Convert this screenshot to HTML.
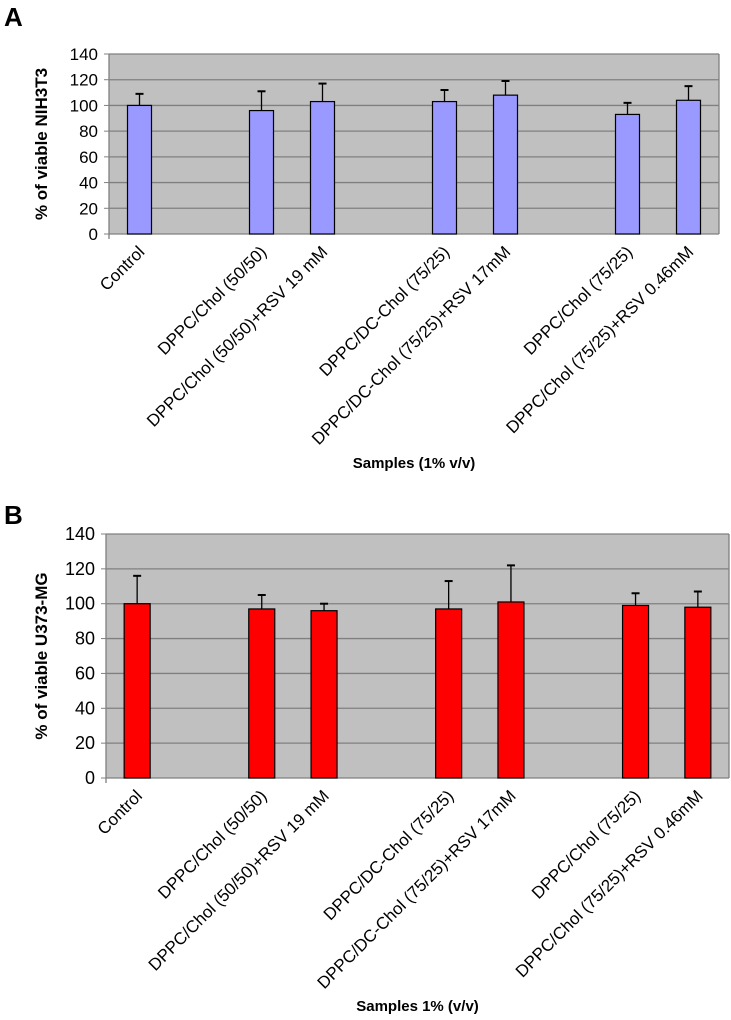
<!DOCTYPE html>
<html><head><meta charset="utf-8"><style>
body{margin:0;background:#fff;}
svg{display:block;font-family:"Liberation Sans",Arial,sans-serif;}
</style></head><body>
<svg id="fig" width="731" height="1020"></svg>
<script>
const categories = ["Control","","DPPC/Chol (50/50)","DPPC/Chol (50/50)+RSV 19 mM","","DPPC/DC-Chol (75/25)","DPPC/DC-Chol (75/25)+RSV 17mM","","DPPC/Chol (75/25)","DPPC/Chol (75/25)+RSV 0.46mM"];
const nihValues = [100,null,96,103,null,103,108,null,93,104];
const nihErrors = [9,null,15,14,null,9,11,null,9,11];
const u373Values = [100,null,97,96,null,97,101,null,99,98];
const u373Errors = [16,null,8,4,null,16,21,null,7,9];
const yTicks = [0,20,40,60,80,100,120,140];

const NS="http://www.w3.org/2000/svg";
const svg=document.getElementById('fig');
function mk(tag,attrs,parent,text){const e=document.createElementNS(NS,tag);for(const k in attrs)e.setAttribute(k,attrs[k]);if(text!==undefined)e.textContent=text;(parent||svg).appendChild(e);return e;}

function chart(cfg){
  const g=mk('g',{});
  
  
  const {L,R,T,B}=cfg;
  const y=v=>B-(v/140)*(B-T);
  const slot=(R-L)/categories.length;
  const x=i=>L+slot*(i+0.5);
  const bg=mk('rect',{x:L,y:T,width:R-L,height:B-T,fill:'#c0c0c0'},g);
  
  
  yTicks.forEach(t=>{
    if(t>0){const gl=mk('line',{x1:L,x2:R,y1:y(t),y2:y(t),stroke:'#808080','stroke-width':1.3},g);
      
      }
    mk('line',{x1:L-5,x2:L,y1:y(t),y2:y(t),stroke:'#808080'},g);
    const tl=mk('text',{x:L-11,y:y(t)+6,'text-anchor':'end','font-size':cfg.tickFs},g,String(t));
    
    
  });
  mk('line',{x1:R,x2:R,y1:T,y2:B,stroke:'#808080','stroke-width':1.3},g);
  mk('line',{x1:L,x2:L,y1:T,y2:B+5,stroke:'#808080','stroke-width':1.3},g);
  mk('line',{x1:L,x2:R,y1:B,y2:B,stroke:'#808080','stroke-width':1.3},g);
  cfg.values.forEach((v,i)=>{
    if(v===null)return;
    const cx=x(i),bw=cfg.bw;
    const e=cfg.errors[i];
    const eb=mk('line',{x1:cx,x2:cx,y1:y(v),y2:y(v+e),stroke:'#000','stroke-width':1.3},g);
    
    
    mk('line',{x1:cx-4,x2:cx+4,y1:y(v+e),y2:y(v+e),stroke:'#000','stroke-width':2},g);
    const b=mk('rect',{x:cx-bw/2,y:y(v),width:bw,height:B-y(v),fill:cfg.color,stroke:'#000','stroke-width':1.2},g);
    
    
  });
  categories.forEach((c,i)=>{
    if(!c)return;
    const lx=x(i)+6,ly=B+19;
    const t=mk('text',{x:lx,y:ly,'text-anchor':'end','font-size':17,transform:`rotate(-45 ${lx} ${ly})`},g,c);
    
    
  });
  const xt=mk('text',{x:(L+R)/2,y:cfg.xTitleY,'text-anchor':'middle','font-size':15,'font-weight':'bold'},g,cfg.xTitle);
  
  
  const yc=(T+B)/2;
  const yt=mk('text',{x:47,y:yc,'text-anchor':'middle','font-size':17,'font-weight':'bold',transform:`rotate(-90 47 ${yc})`},g,cfg.yTitle);
  
  
  const pl=mk('text',{x:4,y:cfg.panelY,'font-size':26,'font-weight':'bold'},g,cfg.panel);
  
  
}
chart({name:'chart-a',L:109,R:719,T:54,B:234,bw:24,color:'#9999ff',tickFs:17,values:nihValues,errors:nihErrors,xTitle:'Samples (1% v/v)',xTitleY:468,yTitle:'% of viable NIH3T3',panel:'A',panelY:26});
chart({name:'chart-b',L:106,R:729,T:534,B:778,bw:26,color:'#ff0000',tickFs:18,values:u373Values,errors:u373Errors,xTitle:'Samples 1% (v/v)',xTitleY:1011,yTitle:'% of viable U373-MG',panel:'B',panelY:524});
</script>
</body></html>
